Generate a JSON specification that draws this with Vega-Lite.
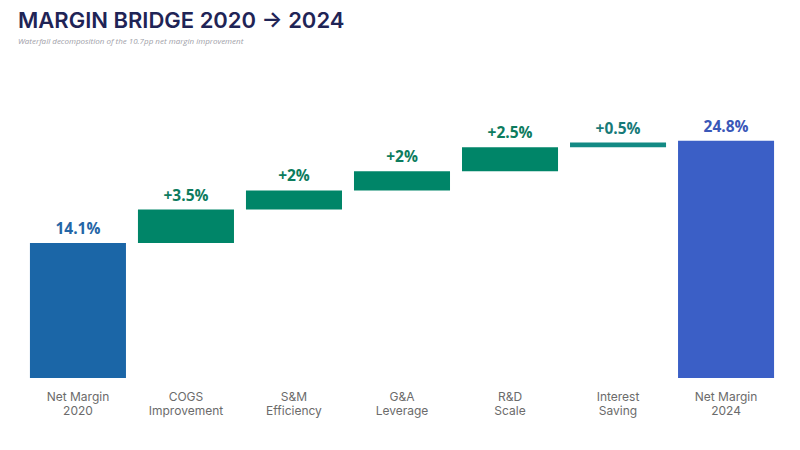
{
  "$schema": "https://vega.github.io/schema/vega-lite/v6.json",
  "width": 756,
  "height": 268,
  "autosize": {"type": "none"},
  "padding": {"left": 24, "top": 110, "right": 20, "bottom": 72},
  "background": "white",
  "title": {
    "text": "MARGIN BRIDGE 2020 → 2024",
    "subtitle": "Waterfall decomposition of the 10.7pp net margin improvement",
    "anchor": "start",
    "frame": "group",
    "dx": -6,
    "offset": 63,
    "font": "Inter",
    "fontSize": 22,
    "fontWeight": 600,
    "color": "#1f2456",
    "subtitleFont": "Open Sans",
    "subtitleFontSize": 8,
    "subtitleFontStyle": "italic",
    "subtitleColor": "#a0a0a8",
    "subtitlePadding": 5
  },
  "data": {
    "values": [
      {"step": "Net Margin|2020", "start": 0, "end": 14.1, "type": "Total 2020", "lbl": "14.1%"},
      {"step": "COGS|Improvement", "start": 14.1, "end": 17.6, "type": "Gain", "lbl": "+3.5%"},
      {"step": "S&M|Efficiency", "start": 17.6, "end": 19.6, "type": "Gain", "lbl": "+2%"},
      {"step": "G&A|Leverage", "start": 19.6, "end": 21.6, "type": "Gain", "lbl": "+2%"},
      {"step": "R&D|Scale", "start": 21.6, "end": 24.1, "type": "Gain", "lbl": "+2.5%"},
      {"step": "Interest|Saving", "start": 24.1, "end": 24.6, "type": "Minor", "lbl": "+0.5%"},
      {"step": "Net Margin|2024", "start": 0, "end": 24.8, "type": "Total 2024", "lbl": "24.8%"}
    ]
  },
  "encoding": {
    "x": {
      "field": "step",
      "type": "nominal",
      "sort": null,
      "scale": {"paddingInner": 0.111, "paddingOuter": 0.055},
      "axis": {
        "title": null,
        "domain": false,
        "ticks": false,
        "labelAngle": 0,
        "labelExpr": "split(datum.label, '|')",
        "labelFont": "Inter",
        "labelFontSize": 12,
        "labelColor": "#6b6b6b",
        "labelLineHeight": 14,
        "labelPadding": 13
      }
    }
  },
  "layer": [
    {
      "mark": {"type": "bar"},
      "encoding": {
        "y": {
          "field": "start",
          "type": "quantitative",
          "scale": {"domain": [0, 28], "nice": false},
          "axis": null
        },
        "y2": {"field": "end"},
        "color": {
          "field": "type",
          "type": "nominal",
          "scale": {
            "domain": ["Total 2020", "Gain", "Minor", "Total 2024"],
            "range": ["#1b66a7", "#008568", "#138a84", "#3b5fc6"]
          },
          "legend": null
        }
      }
    },
    {
      "mark": {"type": "text", "baseline": "bottom", "dy": -6, "font": "Open Sans", "fontSize": 15.5, "fontWeight": 700},
      "encoding": {
        "y": {"field": "end", "type": "quantitative"},
        "text": {"field": "lbl"},
        "color": {
          "field": "type",
          "type": "nominal",
          "scale": {
            "domain": ["Total 2020", "Gain", "Minor", "Total 2024"],
            "range": ["#2466a6", "#0d7c5e", "#177a78", "#3a58b8"]
          },
          "legend": null
        }
      }
    }
  ],
  "resolve": {"scale": {"color": "independent"}},
  "config": {"view": {"stroke": null}, "axis": {"grid": false}}
}
